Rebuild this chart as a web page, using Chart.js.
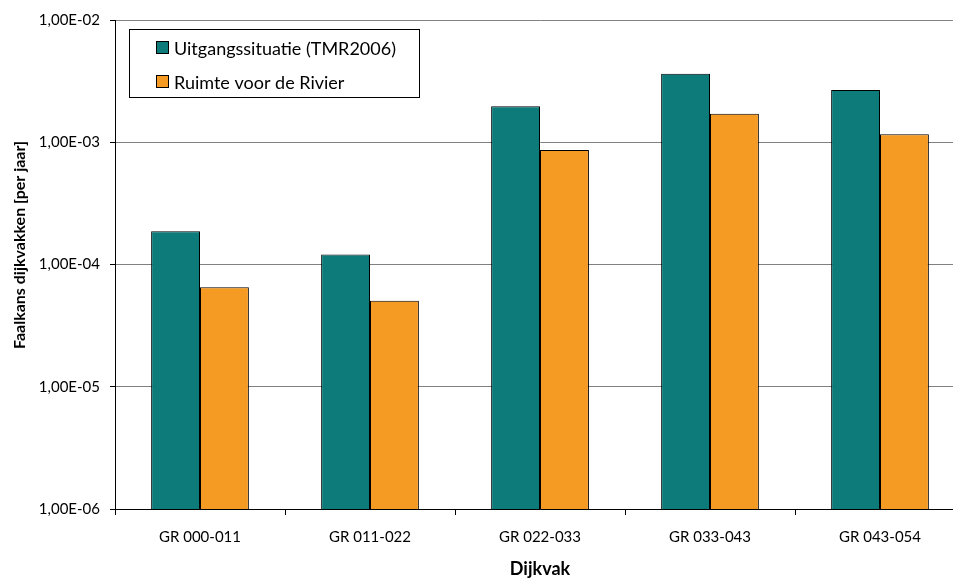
<!DOCTYPE html>
<html>
<head>
<meta charset="utf-8">
<script src="https://cdn.jsdelivr.net/npm/chart.js@4/dist/chart.umd.min.js"></script>
<style>
  html, body { margin: 0; padding: 0; background: #fff; overflow: hidden; }
  #wrap { position: relative; width: 966px; height: 578px; }
</style>
</head>
<body>
<div id="wrap"><canvas id="c"></canvas></div>
<script>
// Dike sections and failure probabilities per year
const categories = ['GR 000-011', 'GR 011-022', 'GR 022-033', 'GR 033-043', 'GR 043-054'];
const uitgangssituatie = [1.87e-4, 1.21e-4, 1.97e-3, 3.64e-3, 2.67e-3];
const ruimteVoorDeRivier = [6.5e-5, 5.05e-5, 8.65e-4, 1.71e-3, 1.16e-3];
const yTicks = [1e-6, 1e-5, 1e-4, 1e-3, 1e-2];
const seriesLabels = ['Uitgangssituatie (TMR2006)', 'Ruimte voor de Rivier'];
const yTitle = 'Faalkans dijkvakken [per jaar]';
const xTitle = 'Dijkvak';

const FONT = 'Lato, "Open Sans", sans-serif';

// Excel-style scientific notation with decimal comma: 1,00E-03
function fmt(v) {
  const [m, e] = v.toExponential(2).split('e');
  const n = parseInt(e, 10);
  return m.replace('.', ',') + 'E' + (n < 0 ? '-' : '+') + String(Math.abs(n)).padStart(2, '0');
}

// Axis titles and the boxed legend inside the plot area
const decorations = {
  id: 'decorations',
  afterDraw(chart) {
    const ctx = chart.ctx;
    ctx.save();
    ctx.fillStyle = '#000';
    ctx.textAlign = 'center';
    ctx.textBaseline = 'middle';

    ctx.font = 'bold 18px ' + FONT;
    ctx.fillText(xTitle, 540, 569);

    ctx.font = 'bold 16px ' + FONT;
    ctx.save();
    ctx.translate(20, 245);
    ctx.rotate(-Math.PI / 2);
    ctx.fillText(yTitle, 0, 0);
    ctx.restore();

    // legend
    const bx = 129.5, by = 29.5, bw = 290, bh = 68;
    ctx.fillStyle = '#fff';
    ctx.fillRect(bx, by, bw, bh);
    ctx.strokeStyle = '#000';
    ctx.lineWidth = 1;
    ctx.strokeRect(bx, by, bw, bh);
    ctx.font = '18px ' + FONT;
    ctx.textAlign = 'left';
    chart.data.datasets.forEach((ds, i) => {
      const cy = 48 + i * 34;
      ctx.fillStyle = ds.backgroundColor;
      ctx.fillRect(156.5, cy - 6.5, 12, 12);
      ctx.strokeStyle = '#000';
      ctx.strokeRect(156.5, cy - 6.5, 12, 12);
      ctx.fillStyle = '#000';
      ctx.fillText(ds.label, 174, cy + 1);
    });
    ctx.restore();
  }
};

new Chart(document.getElementById('c'), {
  type: 'bar',
  data: {
    labels: categories,
    datasets: [
      { label: seriesLabels[0], data: uitgangssituatie, backgroundColor: '#0E7B7B', borderColor: '#000', borderWidth: 1 },
      { label: seriesLabels[1], data: ruimteVoorDeRivier, backgroundColor: '#F59A23', borderColor: '#000', borderWidth: 1 }
    ]
  },
  options: {
    responsive: true,
    maintainAspectRatio: false,
    devicePixelRatio: 1,
    animation: false,
    layout: { padding: { top: 20, right: 1, left: 0, bottom: 0 } },
    datasets: { bar: { categoryPercentage: 0.575, barPercentage: 1.0 } },
    plugins: { legend: { display: false }, tooltip: { enabled: false } },
    scales: {
      x: {
        afterFit: s => { s.height = 69; },
        grid: { offset: true, drawOnChartArea: false, tickLength: 6, tickColor: '#000' },
        border: { color: '#000' },
        ticks: { color: '#000', padding: 13, font: { family: FONT, size: 15 }, maxRotation: 0 }
      },
      y: {
        type: 'logarithmic',
        min: 1e-6,
        max: 1e-2,
        afterBuildTicks: s => { s.ticks = yTicks.map(v => ({ value: v })); },
        afterFit: s => { s.width = 115; },
        grid: { color: '#808080', tickLength: 5, tickColor: '#000' },
        border: { color: '#000' },
        ticks: { color: '#000', padding: 10, font: { family: FONT, size: 15 }, callback: v => fmt(v) }
      }
    }
  },
  plugins: [decorations]
});
</script>
</body>
</html>
